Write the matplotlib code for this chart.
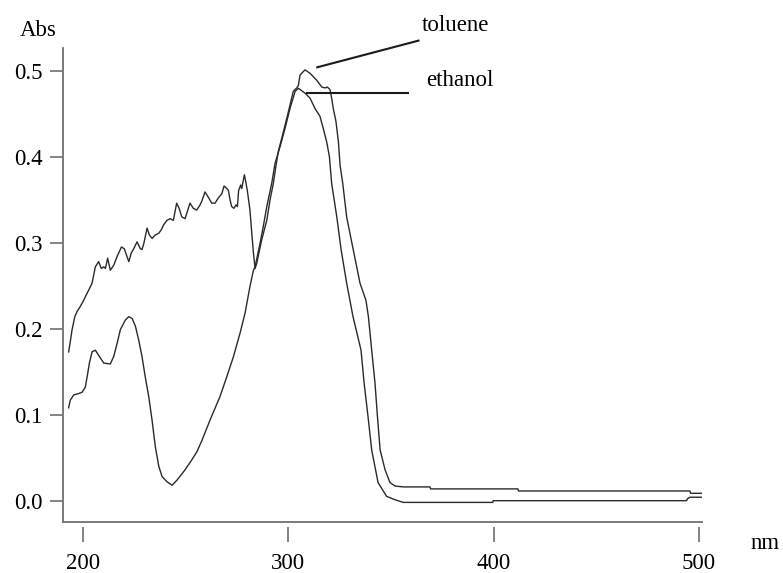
import numpy as np
import matplotlib
matplotlib.use("Agg")
import matplotlib.pyplot as plt

# Absorbance spectra (wavelength in nm, absorbance)
tol_nm = [193.0, 193.8, 194.6, 196.0, 197.1, 198.7, 200.3, 201.5, 202.8, 204.4,
          206.0, 207.6, 208.9, 210.1, 210.9, 212.0, 213.3, 215.0, 216.6, 218.7,
          220.1, 221.4, 222.3, 223.5, 224.7, 226.3, 227.9, 228.7, 229.6, 231.2,
          232.3, 233.6, 235.2, 236.9, 238.1, 239.3, 240.9, 242.4, 244.0, 245.6,
          246.8, 248.1, 249.7, 251.3, 252.1, 253.7, 255.4, 257.0, 257.8, 259.4,
          261.0, 262.7, 264.3, 265.9, 267.6, 268.7, 270.0, 270.8, 271.6, 272.4,
          273.5, 274.5, 275.2, 275.8, 276.8, 277.3, 278.1, 278.6, 279.4, 280.0,
          281.3, 282.2, 283.0, 283.8, 284.6, 287.0, 289.5, 291.1, 292.7, 294.0,
          295.1, 297.6, 300.0, 302.4, 304.1, 304.9, 305.7, 308.1, 310.6, 313.8,
          316.3, 317.9, 319.0, 320.3, 321.1, 321.9, 323.2, 324.4, 325.2, 326.5,
          328.4, 331.6, 334.9, 337.8, 339.0, 340.6, 342.2, 343.4, 344.7, 347.1,
          349.5, 352.0, 356.0, 369.0, 369.3, 411.8, 412.1, 495.6, 495.9, 501.3]
tol_abs = [0.173, 0.185, 0.198, 0.214, 0.220, 0.226, 0.233, 0.239, 0.245, 0.253,
           0.272, 0.278, 0.270, 0.272, 0.270, 0.282, 0.268, 0.274, 0.284, 0.295,
           0.293, 0.284, 0.278, 0.288, 0.293, 0.301, 0.293, 0.292, 0.299, 0.317,
           0.309, 0.305, 0.309, 0.311, 0.315, 0.321, 0.326, 0.328, 0.326, 0.346,
           0.340, 0.330, 0.328, 0.340, 0.346, 0.340, 0.338, 0.344, 0.348, 0.359,
           0.353, 0.346, 0.346, 0.352, 0.357, 0.366, 0.363, 0.361, 0.350, 0.342,
           0.340, 0.344, 0.342, 0.361, 0.367, 0.363, 0.373, 0.379, 0.369, 0.361,
           0.338, 0.311, 0.288, 0.270, 0.276, 0.303, 0.326, 0.350, 0.369, 0.390,
           0.406, 0.429, 0.452, 0.476, 0.480, 0.483, 0.495, 0.501, 0.497, 0.489,
           0.481, 0.480, 0.481, 0.478, 0.468, 0.456, 0.441, 0.417, 0.390, 0.369,
           0.330, 0.292, 0.253, 0.233, 0.214, 0.175, 0.137, 0.098, 0.059, 0.036,
           0.021, 0.017, 0.016, 0.016, 0.0137, 0.0137, 0.0113, 0.0113, 0.0086, 0.0086]

eth_nm = [193.0, 193.8, 195.5, 197.1, 199.5, 201.1, 202.0, 203.1, 204.4, 206.0,
          207.6, 210.1, 213.3, 215.0, 216.6, 218.2, 220.6, 222.3, 223.9, 225.5,
          227.1, 228.7, 230.3, 232.0, 233.6, 235.2, 236.9, 238.5, 240.9, 243.4,
          245.8, 249.1, 252.3, 255.5, 257.9, 261.9, 266.7, 270.0, 273.2, 276.5,
          278.9, 281.3, 283.0, 283.8, 286.2, 287.8, 289.5, 291.9, 293.5, 296.0,
          298.4, 300.8, 303.3, 304.9, 308.1, 310.6, 313.0, 315.4, 317.0, 318.7,
          320.0, 321.1, 323.6, 325.7, 328.4, 331.5, 335.4, 336.9, 338.8, 340.6,
          343.7, 347.9, 352.0, 356.0, 399.6, 399.8, 494.0, 494.3, 495.5, 501.3]
eth_abs = [0.108, 0.117, 0.123, 0.124, 0.126, 0.132, 0.144, 0.160, 0.173, 0.175,
           0.169, 0.160, 0.159, 0.168, 0.183, 0.199, 0.210, 0.214, 0.212, 0.203,
           0.187, 0.168, 0.144, 0.121, 0.094, 0.063, 0.040, 0.028, 0.022, 0.018,
           0.024, 0.034, 0.045, 0.057, 0.070, 0.094, 0.121, 0.144, 0.167, 0.195,
           0.218, 0.249, 0.268, 0.272, 0.299, 0.319, 0.342, 0.369, 0.392, 0.412,
           0.433, 0.456, 0.476, 0.4795, 0.474, 0.468, 0.456, 0.447, 0.433, 0.417,
           0.400, 0.369, 0.330, 0.292, 0.253, 0.214, 0.175, 0.137, 0.098, 0.059,
           0.021, 0.005, 0.001, -0.002, -0.002, 0.000, 0.000, 0.002, 0.004, 0.004]

x_ticks = [200, 300, 400, 500]
y_ticks = [0.0, 0.1, 0.2, 0.3, 0.4, 0.5]

plt.rcParams['font.family'] = ['Liberation Serif', 'DejaVu Serif']
fs = 16.5
line_col = '#2a2a2a'
axis_col = '#707070'

fig = plt.figure(figsize=(7.83, 5.73), dpi=100)
ax = fig.add_axes([0.0805, 0.0890, 0.8161, 0.8272])

ax.plot(tol_nm, tol_abs, color=line_col, lw=1.0)
ax.plot(eth_nm, eth_abs, color=line_col, lw=1.0)

ax.set_xlim(190.26, 501.5)
ax.set_ylim(-0.0248, 0.5264)

for s in ['top', 'right']:
    ax.spines[s].set_visible(False)
ax.spines['left'].set_color(axis_col)
ax.spines['left'].set_linewidth(1.3)
# x ticks sit a little below the axis line: offset invisible spine, draw line at the edge
ax.spines['bottom'].set_position(('outward', 3.5))
ax.spines['bottom'].set_visible(False)
ax.axhline(ax.get_ylim()[0], color=axis_col, lw=1.3, clip_on=False)

ax.set_xticks(x_ticks)
ax.set_xticklabels([str(t) for t in x_ticks])
ax.set_yticks(y_ticks)
ax.set_yticklabels([f'{t:.1f}' for t in y_ticks])
ax.tick_params(axis='x', direction='out', length=11, width=1.2, color=axis_col,
               labelsize=fs, pad=8)
ax.tick_params(axis='y', direction='out', length=9.5, width=1.2, color=axis_col,
               labelsize=fs, pad=5)

ax.text(178.1, 0.540, 'Abs', fontsize=fs, ha='center', va='baseline', clip_on=False)
ax.text(532, -0.056, 'nm', fontsize=fs, ha='center', va='baseline', clip_on=False)

# curve labels with leader lines
ax.plot([314.1, 363.4], [0.504, 0.535], color='#1a1a1a', lw=1.5, clip_on=False)
ax.text(365.1, 0.546, 'toluene', fontsize=fs, ha='left', va='baseline', clip_on=False)
ax.plot([309.3, 358.5], [0.474, 0.474], color='#1a1a1a', lw=1.5, clip_on=False)
ax.text(367.1, 0.482, 'ethanol', fontsize=fs, ha='left', va='baseline', clip_on=False)

fig.savefig('out.png', dpi=100)
